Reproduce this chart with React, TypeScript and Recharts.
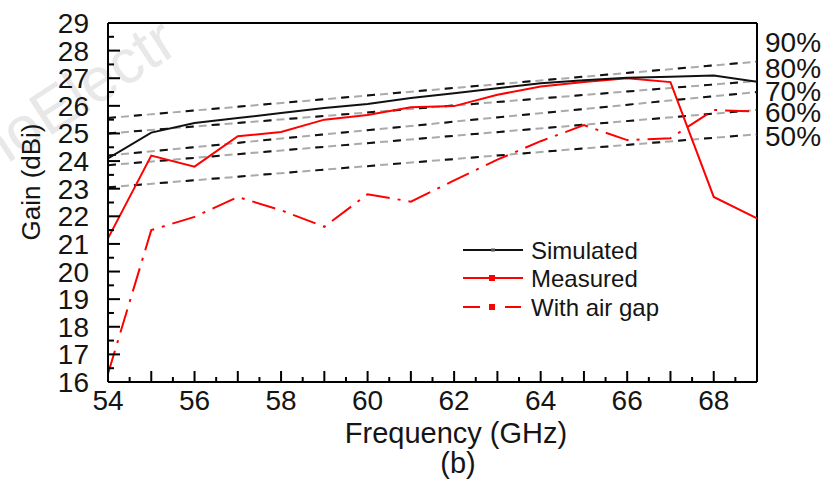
import { Line, LineChart, ReferenceLine, XAxis, YAxis } from "recharts";

// Gain vs frequency, panel (b): simulated / measured / air-gap gain with
// constant-aperture-efficiency guide lines (50..90 %).

const FONT = "'Liberation Sans', Arial, sans-serif";
const INK = "#151515";

const freqs = [54, 55, 56, 57, 58, 59, 60, 61, 62, 63, 64, 65, 66, 67, 68, 69];
const simulated = [24.1, 25.03, 25.38, 25.56, 25.74, 25.92, 26.07, 26.28, 26.46, 26.64, 26.82, 26.93, 27.02, 27.05, 27.1, 26.87];
const measured = [21.2, 24.2, 23.8, 24.9, 25.05, 25.5, 25.67, 25.95, 25.99, 26.4, 26.7, 26.86, 27.0, 26.86, 22.7, 21.93];
const airGap = [16.3, 21.5, 21.98, 22.7, 22.22, 21.62, 22.8, 22.53, 23.3, 24.05, 24.72, 25.3, 24.76, 24.83, 25.85, 25.79];

// efficiency guide lines: gain at 54 GHz and at 69 GHz
const effNames = ["90%", "80%", "70%", "60%", "50%"];
const effStart = [25.56, 25.0, 24.2, 23.85, 23.05];
const effEnd = [27.6, 26.9, 26.5, 25.85, 24.97];
// where the right-hand labels sit (in dBi, they are spread apart)
const effLabelAt = [28.3, 27.37, 26.54, 25.78, 24.9];

const legendNames = ["Simulated", "Measured", "With air gap"];

const gainTicks = [16, 16.5, 17, 17.5, 18, 18.5, 19, 19.5, 20, 20.5, 21, 21.5, 22, 22.5, 23, 23.5, 24, 24.5, 25, 25.5, 26, 26.5, 27, 27.5, 28, 28.5, 29];
const freqTicks = [54, 54.5, 55, 55.5, 56, 56.5, 57, 57.5, 58, 58.5, 59, 59.5, 60, 60.5, 61, 61.5, 62, 62.5, 63, 63.5, 64, 64.5, 65, 65.5, 66, 66.5, 67, 67.5, 68, 68.5, 69];

const rows = freqs.map((f, i) => ({ f, sim: simulated[i], meas: measured[i], gap: airGap[i] }));
const effLines = effNames.map((name, i) => ({
  name,
  data: [{ f: freqs[0], g: effStart[i] }, { f: freqs[freqs.length - 1], g: effEnd[i] }],
}));

function GainTick({ x, y, payload }: any) {
  const v = payload.value as number;
  const major = Number.isInteger(v);
  return (
    <g>
      <line x1={x} x2={x + (major ? 12 : 6)} y1={y} y2={y} stroke="#000" strokeWidth={2} />
      {major && (
        <text x={x - 19} y={y + 10} textAnchor="end" fontSize={28} fontFamily={FONT} fill={INK}>{v}</text>
      )}
    </g>
  );
}

function FreqTick({ x, y, payload }: any) {
  const v = payload.value as number;
  const major = Number.isInteger(v);
  return (
    <g>
      <line x1={x} x2={x} y1={y} y2={y - (major ? 11 : 5)} stroke="#000" strokeWidth={2} />
      {major && v % 2 === 0 && (
        <text x={x} y={y + 28} textAnchor="middle" fontSize={28} fontFamily={FONT} fill={INK}>{v}</text>
      )}
    </g>
  );
}

function EffTick({ x, y, index }: any) {
  return (
    <text x={x + 8} y={y + 10} fontSize={28} fontFamily={FONT} fill={INK}>{effNames[index]}</text>
  );
}

function LegendBox() {
  const rowY = [14, 42, 71];
  return (
    <svg width={230} height={90} style={{ position: "absolute", left: 460, top: 236 }}>
      <line x1={3} x2={63} y1={rowY[0]} y2={rowY[0]} stroke="#111" strokeWidth={2} />
      <line x1={31} x2={35} y1={rowY[0]} y2={rowY[0]} stroke="#555" strokeWidth={3} />
      <line x1={3} x2={63} y1={rowY[1]} y2={rowY[1]} stroke="#ff0000" strokeWidth={2} />
      <rect x={29} y={rowY[1] - 3} width={6} height={6} fill="#ff0000" />
      <line x1={3} x2={20} y1={rowY[2]} y2={rowY[2]} stroke="#ff0000" strokeWidth={2} />
      <rect x={29} y={rowY[2] - 3} width={6} height={6} fill="#ff0000" />
      <line x1={45} x2={61} y1={rowY[2]} y2={rowY[2]} stroke="#ff0000" strokeWidth={2} />
      {legendNames.map((n, i) => (
        <text key={n} x={71} y={rowY[i] + 9} fontSize={24} fontFamily={FONT} fill={INK}>{n}</text>
      ))}
    </svg>
  );
}

export default function App() {
  return (
    <div style={{ position: "absolute", left: 0, top: 0, width: 834, height: 479, background: "#fff", overflow: "hidden" }}>
      <svg width={834} height={479} style={{ position: "absolute", left: 0, top: 0 }}>
        <text x={-10} y={175} transform="rotate(-33 -10 175)" fontSize={62} fontFamily={FONT} fill="#e8e8e8">noElectr</text>
      </svg>
      <div style={{ position: "absolute", left: 0, top: 0 }}>
        <LineChart width={834} height={479} data={rows} margin={{ top: 23, right: 0, bottom: 0, left: 0 }}>
          <XAxis dataKey="f" type="number" domain={[54, 69]} ticks={freqTicks} interval={0}
            tickSize={0} tickMargin={0} height={97} axisLine={{ stroke: "#000", strokeWidth: 2 }}
            tickLine={false} tick={<FreqTick />} allowDataOverflow />
          <YAxis type="number" domain={[16, 29]} ticks={gainTicks} interval={0} width={108}
            tickSize={0} tickMargin={0} axisLine={{ stroke: "#000", strokeWidth: 2 }}
            tickLine={false} tick={<GainTick />} allowDataOverflow />
          <YAxis yAxisId="eff" orientation="right" type="number" domain={[16, 29]} ticks={effLabelAt}
            interval={0} width={77} tickSize={0} tickMargin={0} axisLine={false} tickLine={false}
            tick={<EffTick />} allowDataOverflow />
          <ReferenceLine y={29} stroke="#000" strokeWidth={2} />
          <ReferenceLine x={69} stroke="#000" strokeWidth={2} />
          {effLines.map((e) => (
            <Line key={e.name + "g"} data={e.data} dataKey="g" stroke="#aaaaaa" strokeWidth={2}
              strokeDasharray="8 5" dot={false} isAnimationActive={false} />
          ))}
          {effLines.map((e) => (
            <Line key={e.name + "k"} data={e.data} dataKey="g" stroke="#111" strokeWidth={2}
              strokeDasharray="8 18" dot={false} isAnimationActive={false} />
          ))}
          <Line dataKey="gap" name="With air gap" stroke="#ff0000" strokeWidth={2}
            strokeDasharray="24 8 3 8" dot={false} isAnimationActive={false} />
          <Line dataKey="meas" name="Measured" stroke="#ff0000" strokeWidth={2}
            dot={false} isAnimationActive={false} />
          <Line dataKey="sim" name="Simulated" stroke="#111" strokeWidth={2}
            dot={false} isAnimationActive={false} />
        </LineChart>
      </div>
      <LegendBox />
      <svg width={834} height={479} style={{ position: "absolute", left: 0, top: 0, pointerEvents: "none" }}>
        <text x={31} y={182} transform="rotate(-90 31 182)" textAnchor="middle" dominantBaseline="central"
          fontSize={26} fontFamily={FONT} fill={INK}>Gain (dBi)</text>
        <text x={456} y={443} textAnchor="middle" fontSize={29} fontFamily={FONT} fill={INK}>Frequency (GHz)</text>
        <text x={458} y={473} textAnchor="middle" fontSize={29} fontFamily={FONT} fill={INK}>(b)</text>
      </svg>
    </div>
  );
}
